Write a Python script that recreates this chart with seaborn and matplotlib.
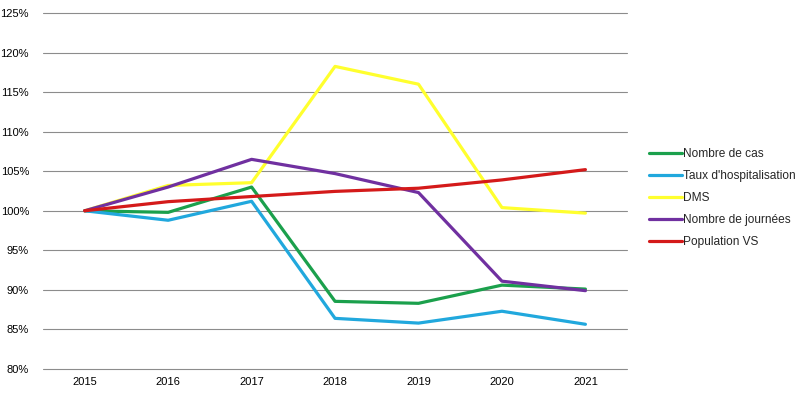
import numpy as np
import pandas as pd
import seaborn as sns
from matplotlib import pyplot as plt
from matplotlib.ticker import FuncFormatter

years = ["2015", "2016", "2017", "2018", "2019", "2020", "2021"]

nombre_cas = [100.0, 99.8, 103.0, 88.55, 88.3, 90.6, 90.1]
taux_hosp = [100.0, 98.8, 101.2, 86.4, 85.8, 87.3, 85.65]
dms = [100.0, 103.2, 103.55, 118.25, 116.0, 100.4, 99.7]
nombre_journees = [100.0, 103.0, 106.5, 104.7, 102.3, 91.1, 89.9]
population_vs = [100.0, 101.15, 101.8, 102.45, 102.85, 103.9, 105.2]

series_names = [
    "Nombre de cas",
    "Taux d'hospitalisation",
    "DMS",
    "Nombre de journées",
    "Population VS",
]
series_values = [nombre_cas, taux_hosp, dms, nombre_journees, population_vs]
colors = ["#1BA04C", "#21A8DD", "#FFFF2E", "#7030A0", "#D41A1A"]

rows = []
for name, values in zip(series_names, series_values):
    for i, v in enumerate(values):
        rows.append({"pos": i, "serie": name, "valeur": v})
df = pd.DataFrame(rows)

sns.set_style("white")
plt.rcParams["font.family"] = ["Liberation Sans", "DejaVu Sans"]

fig = plt.figure(figsize=(8.03, 3.94), dpi=100)
ax = fig.add_axes([0.0535, 0.0635, 0.7275, 0.9035])

sns.lineplot(
    data=df,
    x="pos",
    y="valeur",
    hue="serie",
    hue_order=series_names,
    palette=colors,
    linewidth=2.3,
    ax=ax,
)

ax.set_xlim(-0.5, len(years) - 0.5)
ax.set_ylim(80, 125)
ax.set_yticks(np.arange(80, 126, 5))
ax.yaxis.set_major_formatter(FuncFormatter(lambda v, _: f"{v:.0f}%"))
ax.set_xticks(range(len(years)))
ax.set_xticklabels(years)
ax.tick_params(axis="both", labelsize=8, length=0, colors="black")
ax.tick_params(axis="y", pad=10)
ax.tick_params(axis="x", pad=6)
ax.grid(axis="y", color="#8c8c8c", linewidth=0.8)
for gl in ax.get_ygridlines():
    gl.set_clip_on(False)
ax.set_axisbelow(True)
for s in ax.spines.values():
    s.set_visible(False)
ax.set_xlabel("")
ax.set_ylabel("")

ax.legend(
    loc="center left",
    bbox_to_anchor=(0.802, 0.497),
    bbox_transform=fig.transFigure,
    frameon=False,
    fontsize=8.6,
    handlelength=2.75,
    handletextpad=0.12,
    labelspacing=0.83,
    borderaxespad=0,
)

fig.savefig("out.png", dpi=100)
